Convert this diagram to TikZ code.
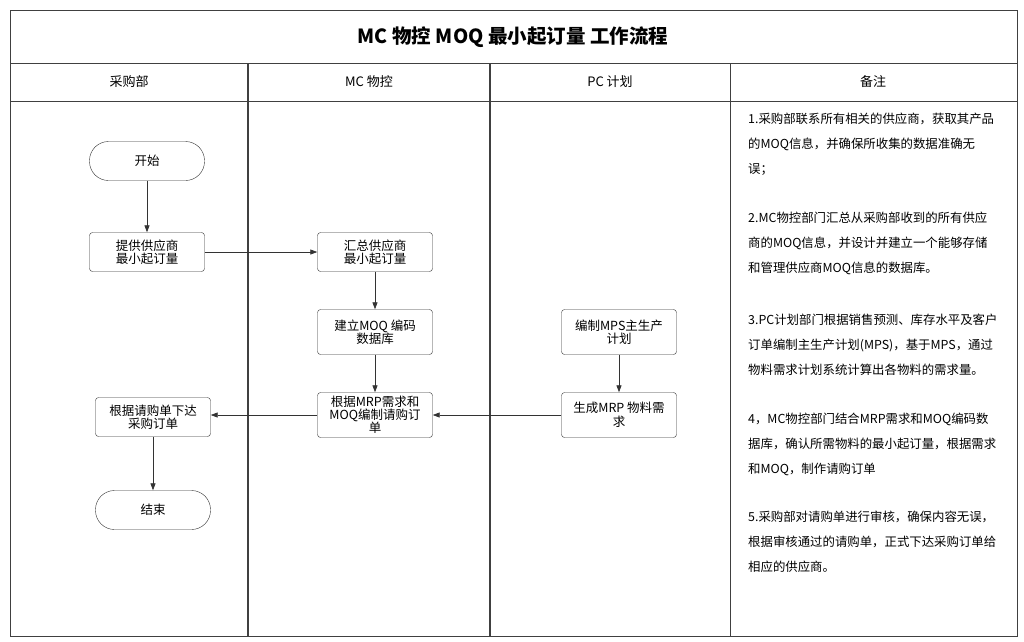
\documentclass[tikz,border=0pt]{standalone}
\usepackage{fontspec}
\setmainfont{Noto Sans CJK SC}
\usetikzlibrary{arrows.meta}
\begin{document}
\begin{tikzpicture}[x=1pt,y=-1pt,
  box/.style={draw=black!80,rounded corners=3pt,minimum width=115pt,minimum height=39pt,align=center,font=\fontsize{12.5}{13.5}\selectfont,inner sep=1pt},
  term/.style={draw=black!80,rounded corners=19pt,minimum width=115pt,minimum height=39pt,font=\fontsize{12.5}{14}\selectfont},
  arr/.style={-{Triangle[length=7pt,width=5pt]},draw=black!80,line width=0.8pt},
  note/.style={anchor=north west,align=left,font=\fontsize{12.4}{25}\selectfont,inner sep=0pt},
  hdr/.style={font=\fontsize{13}{15}\selectfont}]
\useasboundingbox (0,0) rectangle (1024,641);
\fill[white] (0,0) rectangle (1024,641);
\draw[black!75,line width=1pt] (10,10) rectangle (1017,636);
\draw[black!75,line width=1pt] (10,63) -- (1017,63) (10,101) -- (1017,101);
\draw[black!75,line width=1.2pt] (248,63) -- (248,636) (490,63) -- (490,636);
\draw[black!75,line width=1pt] (730,63) -- (730,636);
\node[font=\bfseries\fontsize{19.5}{21}\selectfont] (title) at (513,37) {MC 物控 MOQ 最小起订量 工作流程};
\node[hdr] (h1) at (129,82) {采购部};
\node[hdr] (h2) at (369,82) {MC 物控};
\node[hdr] (h3) at (610,82) {PC 计划};
\node[hdr] (h4) at (873,82) {备注};
\node[term] (start) at (147,161) {开始};
\node[box] (a1) at (147,252) {提供供应商\\最小起订量};
\node[box] (b1) at (375,252) {汇总供应商\\最小起订量};
\node[box,minimum height=45pt] (b2) at (375,332) {建立MOQ 编码\\数据库};
\node[box,minimum height=45pt,font=\fontsize{12.5}{12.5}\selectfont] (b3) at (375,415) {根据MRP需求和\\MOQ编制请购订\\单};
\node[box,minimum height=45pt] (c1) at (619,332) {编制MPS主生产\\计划};
\node[box,minimum height=45pt] (c2) at (619,415) {生成MRP 物料需\\求};
\node[box] (a2) at (153,417) {根据请购单下达\\采购订单};
\node[term] (end) at (153,510) {结束};
\draw[arr] (start) -- (a1);
\draw[arr] (a1) -- (b1);
\draw[arr] (b1) -- (b2);
\draw[arr] (b2) -- (b3);
\draw[arr] (c1) -- (c2);
\draw[arr] (c2) -- (b3);
\draw[arr] (b3.west) -- (a2.east |- b3.west);
\draw[arr] (a2) -- (end);
\node[note] (n1) at (748,113) {1.采购部联系所有相关的供应商，获取其产品\\的MOQ信息，并确保所收集的数据准确无\\误；};
\node[note] (n2) at (748,212) {2.MC物控部门汇总从采购部收到的所有供应\\商的MOQ信息，并设计并建立一个能够存储\\和管理供应商MOQ信息的数据库。};
\node[note] (n3) at (748,314) {3.PC计划部门根据销售预测、库存水平及客户\\订单编制主生产计划(MPS)，基于MPS，通过\\物料需求计划系统计算出各物料的需求量。};
\node[note] (n4) at (748,413) {4，MC物控部门结合MRP需求和MOQ编码数\\据库，确认所需物料的最小起订量，根据需求\\和MOQ，制作请购订单};
\node[note] (n5) at (748,511) {5.采购部对请购单进行审核，确保内容无误，\\根据审核通过的请购单，正式下达采购订单给\\相应的供应商。};
\end{tikzpicture}
\end{document}
